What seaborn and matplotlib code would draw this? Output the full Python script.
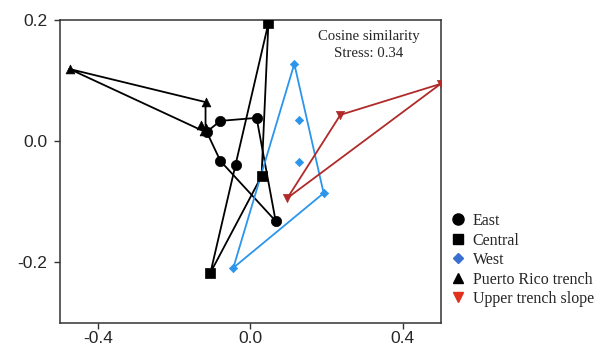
import numpy as np
import matplotlib
matplotlib.use("Agg")
import matplotlib.pyplot as plt
import seaborn as sns
from matplotlib.lines import Line2D

# NMDS scores, one pair of arrays per group
east_x = [-0.115, -0.079, 0.016, -0.079, -0.037, 0.066]
east_y = [0.015, 0.033, 0.038, -0.033, -0.040, -0.132]
central_x = [0.047, 0.029, -0.105]
central_y = [0.194, -0.058, -0.217]
west_x = [0.115, 0.126, 0.126, 0.192, -0.045]
west_y = [0.127, 0.035, -0.035, -0.086, -0.209]
prt_x = [-0.475, -0.118, -0.131, -0.118, -0.123]
prt_y = [0.1185, 0.064, 0.026, 0.021, 0.016]
uts_x = [0.499, 0.236, 0.097]
uts_y = [0.094, 0.043, -0.094]

groups = ["East", "Central", "West", "Puerto Rico trench", "Upper trench slope"]
stress_label = "Cosine similarity\nStress: 0.34"


def convex_hull(xs, ys):
    """Monotone chain hull, returned closed so it can be drawn as a line."""
    pts = sorted(set(zip(xs, ys)))
    if len(pts) < 3:
        return np.array(pts + pts[:1])

    def cross(o, a, b):
        return (a[0] - o[0]) * (b[1] - o[1]) - (a[1] - o[1]) * (b[0] - o[0])

    lower, upper = [], []
    for p in pts:
        while len(lower) >= 2 and cross(lower[-2], lower[-1], p) <= 0:
            lower.pop()
        lower.append(p)
    for p in reversed(pts):
        while len(upper) >= 2 and cross(upper[-2], upper[-1], p) <= 0:
            upper.pop()
        upper.append(p)
    hull = lower[:-1] + upper[:-1]
    return np.array(hull + hull[:1])


sns.set_style("ticks")
plt.rcParams["font.family"] = ["Liberation Sans", "DejaVu Sans"]

fig = plt.figure(figsize=(6.01, 3.49), dpi=100)
ax = fig.add_axes([0.0998, 0.0745, 0.6340, 0.8695])

# (x, y, line colour, point colour, marker, marker area)
styles = [
    (east_x, east_y, "black", "black", "o", 55),
    (central_x, central_y, "black", "black", "s", 50),
    (west_x, west_y, "#2b95ec", "#2b95ec", "D", 18),
    (prt_x, prt_y, "black", "black", "^", 40),
    (uts_x, uts_y, "#b02a2a", "#b02a2a", "v", 35),
]

for xs, ys, lc, pc, mk, s in styles:
    hull = convex_hull(xs, ys)
    ax.plot(hull[:, 0], hull[:, 1], color=lc, lw=1.3, zorder=2)
for xs, ys, lc, pc, mk, s in styles:
    sns.scatterplot(x=xs, y=ys, ax=ax, color=pc, marker=mk, s=s,
                    edgecolor=pc, linewidth=0.5, legend=False, zorder=3)

ax.set_xlim(-0.5, 0.5)
ax.set_ylim(-0.3, 0.2)
ax.set_xticks([-0.4, 0.0, 0.4])
ax.set_yticks([-0.2, 0.0, 0.2])
ax.set_xticklabels(["-0.4", "0.0", "0.4"])
ax.set_yticklabels(["-0.2", "0.0", "0.2"])
ax.tick_params(labelsize=12.5, length=4, width=1, color="#333333")
ax.tick_params(axis="x", pad=2)
ax.tick_params(axis="y", pad=5)
for sp in ax.spines.values():
    sp.set_visible(True)
    sp.set_color("#333333")
    sp.set_linewidth(1.1)
ax.set_xlabel("")
ax.set_ylabel("")

ax.text(0.31, 0.158, stress_label, ha="center", va="center",
        fontsize=10.6, family=["Liberation Serif", "DejaVu Serif"], linespacing=1.4)

legend_markers = [("o", "black", 8), ("s", "black", 7.5), ("D", "#3a6fd0", 5),
                  ("^", "black", 7), ("v", "#e0301e", 7)]
handles = [Line2D([], [], ls="none", marker=m, color=c, markersize=ms)
           for m, c, ms in legend_markers]
fig.legend(handles, groups, loc="upper left", bbox_to_anchor=(443 / 601, 1 - 205 / 349),
           frameon=False, borderpad=0, labelspacing=0.22, handlelength=0.9,
           handletextpad=0.45, prop={"family": "Liberation Serif", "size": 11.5})

fig.savefig("out.png", dpi=100)
